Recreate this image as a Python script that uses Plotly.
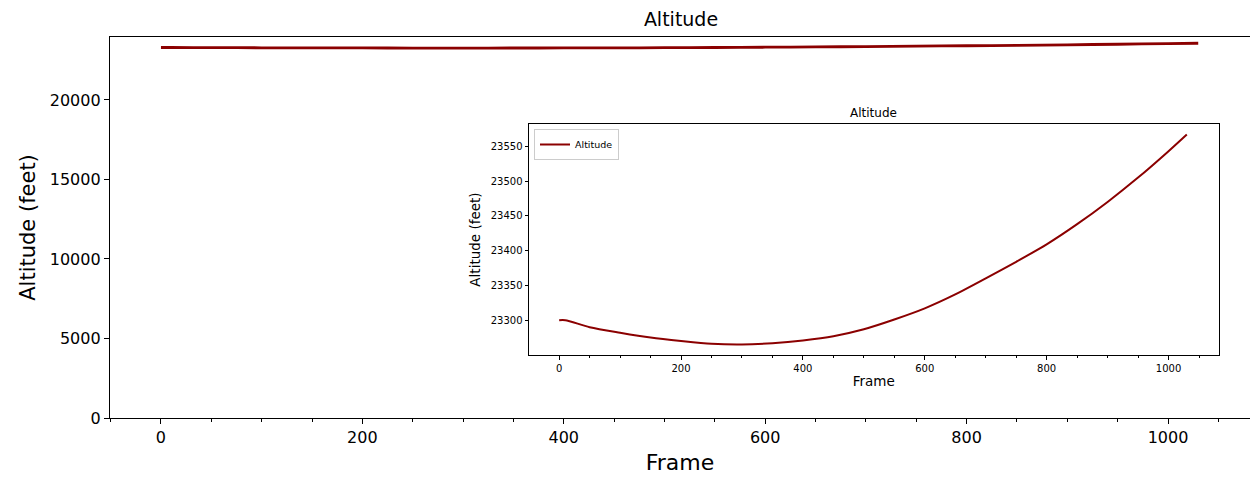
import plotly.graph_objects as go

# Data (frame, altitude in feet)
frames = [0, 10, 50, 100, 150, 200, 250, 300, 350, 400, 450, 500, 550, 600,
          650, 700, 750, 800, 850, 900, 950, 1000, 1030]
altitude = [23300, 23300, 23290, 23282, 23275, 23270, 23266, 23265, 23267,
            23271, 23277, 23287, 23301, 23317, 23337, 23360, 23384, 23409,
            23438, 23470, 23505, 23543, 23567]

main_yticks = [0, 5000, 10000, 15000, 20000]
main_xticks = [0, 200, 400, 600, 800, 1000]
inset_yticks = [23300, 23350, 23400, 23450, 23500, 23550]

W, H = 1250, 480
COLOR = "#8b0000"
FONT = "DejaVu Sans"

def px(x):
    return x / W

def py(y):
    return 1 - y / H

fig = go.Figure()
fig.add_trace(go.Scatter(x=frames, y=altitude, mode="lines", name="Altitude",
                         line=dict(color=COLOR, width=2.8, shape="spline", smoothing=0.8),
                         xaxis="x", yaxis="y", legend="legend"))
fig.add_trace(go.Scatter(x=frames, y=altitude, mode="lines", name="Altitude",
                         line=dict(color=COLOR, width=2, shape="spline", smoothing=0.8),
                         xaxis="x2", yaxis="y2", legend="legend2"))

axis_common = dict(showgrid=False, zeroline=False, showline=True,
                   linecolor="black", ticks="outside", tickcolor="black",
                   color="black", automargin=False)

fig.update_layout(
    width=W, height=H,
    margin=dict(l=0, r=0, t=0, b=0, autoexpand=False),
    paper_bgcolor="white", plot_bgcolor="white",
    font=dict(family=FONT, color="black"),
    title=dict(text="Altitude", x=px(681), xanchor="center", y=py(19),
               yanchor="middle", font=dict(size=19)),
    xaxis=dict(domain=[px(110), 1.0], range=[-50.6, 1081.4], mirror=True,
               tickvals=main_xticks, ticktext=[str(v) for v in main_xticks],
               ticklen=5, tickwidth=1.2, linewidth=1.3,
               tickfont=dict(size=16),
               minor=dict(dtick=50, tick0=0, ticklen=3, ticks="outside",
                          tickcolor="black", showgrid=False),
               title=dict(text="Frame", font=dict(size=22), standoff=8),
               **axis_common),
    yaxis=dict(domain=[py(418), py(37)], range=[0, 23960],
               tickvals=main_yticks, ticktext=[str(v) for v in main_yticks],
               ticklen=5, tickwidth=1.2, linewidth=1.3,
               tickfont=dict(size=16),
               title=dict(text="Altitude (feet)", font=dict(size=21), standoff=8),
               **axis_common),
    xaxis2=dict(domain=[px(529), px(1218.5)], range=[-49.5, 1082],
                anchor="y2", mirror=True, tickvals=main_xticks,
                ticktext=[str(v) for v in main_xticks], ticklen=3.5,
                tickwidth=1, linewidth=1, tickfont=dict(size=10),
                minor=dict(dtick=50, tick0=0, ticklen=2, ticks="outside",
                           tickcolor="black", showgrid=False),
                title=dict(text="Frame", font=dict(size=13.5), standoff=4),
                **axis_common),
    yaxis2=dict(domain=[py(355), py(124)], range=[23250, 23582],
                anchor="x2", mirror=True, tickvals=inset_yticks,
                ticktext=[str(v) for v in inset_yticks], ticklen=3.5,
                tickwidth=1, linewidth=1, tickfont=dict(size=10),
                title=dict(text="Altitude (feet)", font=dict(size=13.5), standoff=6),
                **axis_common),
    legend=dict(x=px(1243), xanchor="right", y=py(45), yanchor="top",
                bgcolor="rgba(255,255,255,0.8)", bordercolor="#cccccc",
                borderwidth=1, font=dict(size=17), itemwidth=40),
    legend2=dict(x=px(534), xanchor="left", y=py(129), yanchor="top",
                 bgcolor="rgba(255,255,255,0.8)", bordercolor="#cccccc",
                 borderwidth=1, font=dict(size=9.5), itemwidth=30,
                 tracegroupgap=0),
    annotations=[dict(text="Altitude", x=px(873.5), y=py(113), xref="paper",
                      yref="paper", showarrow=False, xanchor="center",
                      yanchor="middle", font=dict(size=12, family=FONT))],
)

fig.write_html("out.html",
               config={"displayModeBar": False},
               post_script="document.body.style.margin='0';"
                           "document.body.style.overflow='hidden';")
